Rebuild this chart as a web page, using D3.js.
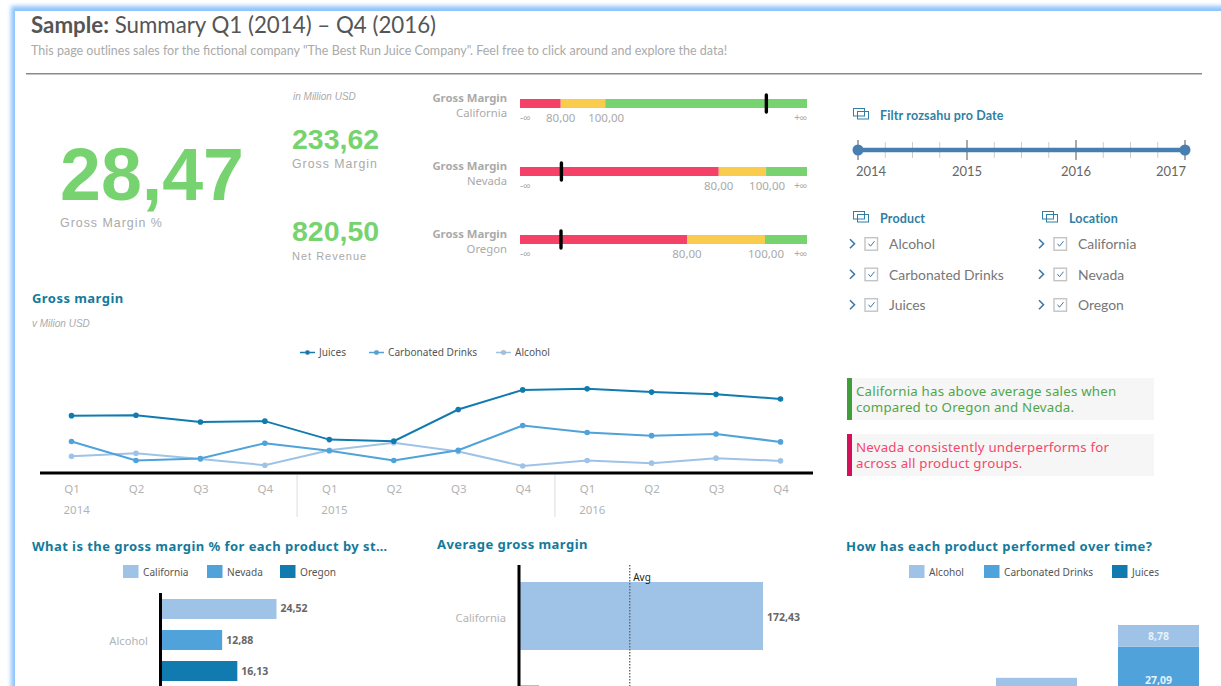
<!DOCTYPE html>
<html><head><meta charset="utf-8">
<script src="https://cdn.jsdelivr.net/npm/d3@7"></script>
<style>
html,body{margin:0;padding:0;background:#fff;overflow:hidden;width:1221px;height:686px}
svg{display:block}
text{font-family:"Noto Sans",sans-serif}
.lato{font-family:Lato,sans-serif}
.arial{font-family:"Liberation Sans",sans-serif}
.sec{font-family:"Noto Sans",sans-serif;font-weight:700;font-size:13px;fill:#137a9c;letter-spacing:.45px}
.leg{font-size:10.1px;fill:#555}
.cat{font-size:11.2px;fill:#b3b3b3}
.val{font-size:10.5px;font-weight:700;fill:#666}
</style></head><body>
<svg id="c" width="1221" height="686" viewBox="0 0 1221 686"></svg>
<script>
// ---------- data ----------
const quarters = ["Q1","Q2","Q3","Q4","Q1","Q2","Q3","Q4","Q1","Q2","Q3","Q4"];
const years = ["2014","2015","2016"];
const juices = [52.4,52.8,46.2,47.1,29.3,27.8,58.3,77.2,78.2,75.1,72.9,68.5];
const carbonated = [27.4,9.1,11.0,25.8,18.5,9.1,19.1,42.9,36.2,33.1,34.7,27.09];
const alcohol = [13.3,16.2,10.7,4.6,19.1,26.2,17.8,3.9,9.1,6.6,11.4,8.78];
const lineSeries = ["Juices","Carbonated Drinks","Alcohol"];

const kpiMain = "28,47";
const kpiGross = "233,62";
const kpiRevenue = "820,50";

const locations = ["California","Nevada","Oregon"];
const products = ["Alcohol","Carbonated Drinks","Juices"];
const grossByLocation = [172.43,13.5,47.69];
const bulletDomainLow = [61.7,-4,37.18];
const bulletDomainHigh = [190.7,117.3,110.77];
const thresholds = [80,100];
const thresholdLabels = ["80,00","100,00"];

const alcoholByLocation = [24.52,12.88,16.13];
const stackPeriods = ["2014","2015","2016"];
const stackAlcohol = [7.0,9.6,8.78];
const stackCarbonated = [15.0,26.0,27.09];
const stackJuices = [40.0,47.4,68.5];

const sliderYears = [2014,2015,2016,2017];

const note1 = ["California has above average sales when","compared to Oregon and Nevada."];
const note2 = ["Nevada consistently underperforms for","across all product groups."];

// ---------- helpers ----------
const LIGHT="#9ec3e7", MID="#4fa3da", DARK="#117bb0", GREEN="#77d36f", RED="#f54068", YEL="#f9cc4e";
const svg = d3.select("#c");
const tx = (x,y,s,cls,extra={})=>{
  const t=svg.append("text").attr("x",x).attr("y",y).text(s);
  if(cls) t.attr("class",cls);
  Object.entries(extra).forEach(([k,v])=>t.style(k,v));
  return t;
};
const vline=(x,y1,y2,col,w)=>svg.append("line").attr("x1",x).attr("x2",x).attr("y1",y1).attr("y2",y2).attr("stroke",col).attr("stroke-width",w);

// ---------- frame ----------
const defs=svg.append("defs");
defs.append("filter").attr("id","blur").attr("x","-5%").attr("y","-5%").attr("width","110%").attr("height","110%")
  .append("feGaussianBlur").attr("stdDeviation",2.2);
svg.append("rect").attr("x",11).attr("y",6).attr("width",1300).attr("height",800).attr("fill","#8fc4fb").attr("filter","url(#blur)");
svg.append("rect").attr("x",15).attr("y",11).attr("width",1300).attr("height",800).attr("fill","#fff");

// ---------- header ----------
const title=tx(31,33,"","lato",{"font-size":"22.3px","fill":"#555"});
title.append("tspan").style("font-weight",700).text("Sample:");
title.append("tspan").text(" Summary Q1 (2014) – Q4 (2016)");
tx(31,54.5,"This page outlines sales for the fictional company \"The Best Run Juice Company\". Feel free to click around and explore the data!","lato",{"font-size":"12.53px","fill":"#aaa"});
svg.append("rect").attr("x",26).attr("y",73).attr("width",1176).attr("height",1.5).attr("fill","#8a8a8a");

// ---------- KPIs ----------
tx(60,200,kpiMain,"arial",{"font-size":"73.5px","font-weight":700,"fill":GREEN});
tx(60,227,"Gross Margin %","arial",{"font-size":"12.4px","fill":"#aaa","letter-spacing":"1px"});
tx(293,100,"in Million USD","arial",{"font-size":"10px","font-style":"italic","fill":"#aaa"});
tx(292,149,kpiGross,"arial",{"font-size":"28.5px","font-weight":700,"fill":GREEN});
tx(292,168,"Gross Margin","arial",{"font-size":"12.3px","fill":"#aaa","letter-spacing":"1px"});
tx(292,241,kpiRevenue,"arial",{"font-size":"28.5px","font-weight":700,"fill":GREEN});
tx(292,260,"Net Revenue","arial",{"font-size":"11px","fill":"#aaa","letter-spacing":"1px"});

// ---------- bullets ----------
locations.forEach((loc,i)=>{
  const top=99+i*68, h=9;
  const x=d3.scaleLinear().domain([bulletDomainLow[i],bulletDomainHigh[i]]).range([520,807]);
  const stops=[bulletDomainLow[i],...thresholds,bulletDomainHigh[i]];
  [RED,YEL,GREEN].forEach((col,k)=>{
    svg.append("rect").attr("x",x(stops[k])).attr("y",top).attr("width",x(stops[k+1])-x(stops[k])).attr("height",h).attr("fill",col);
  });
  svg.append("line").attr("x1",x(grossByLocation[i])).attr("x2",x(grossByLocation[i]))
    .attr("y1",top-4).attr("y2",top+13).attr("stroke","#000").attr("stroke-width",3.4).attr("stroke-linecap","round");
  tx(507,top+3,"Gross Margin",null,{"font-size":"11.3px","font-weight":700,"fill":"#aaa","text-anchor":"end"});
  tx(507,top+17.5,loc,null,{"font-size":"11.3px","fill":"#aaa","text-anchor":"end"});
  tx(520,top+22,"-∞",null,{"font-size":"10px","fill":"#aaa"});
  tx(807,top+22,"+∞",null,{"font-size":"10px","fill":"#aaa","text-anchor":"end"});
  thresholds.forEach((t,k)=>tx(x(t)+(k?1:0),top+23,thresholdLabels[k],null,{"font-size":"11.5px","fill":"#aaa","text-anchor":"middle"}));
});

// ---------- filters ----------
function icon(x,y){
  const g=svg.append("g").attr("fill","none").attr("stroke","#2f7fa5").attr("stroke-width",1);
  g.append("rect").attr("x",x+.5).attr("y",y+.5).attr("width",11).attr("height",7.5);
  g.append("rect").attr("x",x+4.5).attr("y",y+3.5).attr("width",11).attr("height",7.5).attr("fill","none");
}
icon(853,108);
tx(880,120,"Filtr rozsahu pro Date","lato",{"font-size":"12.5px","font-weight":700,"fill":"#2f7fa5","letter-spacing":".15px"});
const sx=d3.scaleLinear().domain([2014,2017]).range([858,1185]);
d3.range(2014,2017.01,0.25).forEach(v=>{
  const major=Number.isInteger(v);
  vline(sx(v),major?140:142,major?160:158,major?"#555":"#ccc",1);
});
svg.append("line").attr("x1",sx(2014)).attr("x2",sx(2017)).attr("y1",150).attr("y2",150).attr("stroke","#477fb0").attr("stroke-width",4.5);
[2014,2017].forEach(v=>svg.append("circle").attr("cx",sx(v)).attr("cy",150).attr("r",5.5).attr("fill","#477fb0"));
sliderYears.forEach((y,i)=>{
  const xp=sx(y)+(i===0?13:i===3?-14:0);
  tx(xp,176,String(y),"lato",{"font-size":"13px","fill":"#666","text-anchor":"middle"});
});
function checks(x,titleStr,items){
  icon(x+11,211);
  tx(x+38,223,titleStr,"lato",{"font-size":"12.5px","font-weight":700,"fill":"#2f7fa5","letter-spacing":".15px"});
  items.forEach((s,i)=>{
    const cy=243.7+i*30.5;
    svg.append("path").attr("d",`M${x+8},${cy-4.5} l4.5,4.5 l-4.5,4.5`).attr("fill","none").attr("stroke","#3f78a8").attr("stroke-width",1.6);
    svg.append("rect").attr("x",x+23).attr("y",cy-6).attr("width",12.5).attr("height",12.5).attr("fill","#fff").attr("stroke","#c4c4c4").attr("stroke-width",1.4);
    svg.append("path").attr("d",`M${x+26.5},${cy} l2,2.5 l4,-5`).attr("fill","none").attr("stroke","#3f78a8").attr("stroke-width",1);
    tx(x+47,cy+5.3,s,"lato",{"font-size":"13.9px","fill":"#777"});
  });
}
checks(842,"Product",products);
checks(1031,"Location",locations);

// ---------- notes ----------
function note(y,bar,col,lines){
  svg.append("rect").attr("x",847).attr("y",y).attr("width",307).attr("height",42).attr("fill","#f6f6f6");
  svg.append("rect").attr("x",847).attr("y",y).attr("width",5).attr("height",42).attr("fill",bar);
  lines.forEach((l,i)=>tx(856,y+17.5+i*16.3,l,null,{"font-size":"13.3px","fill":col,"letter-spacing":".2px"}));
}
note(378,"#3f9e3a","#4fa64a",note1);
note(434,"#d5105a","#f5476a",note2);

// ---------- line chart ----------
tx(32,303,"Gross margin","sec");
tx(32,327,"v Milion USD","arial",{"font-size":"10px","font-style":"italic","fill":"#aaa"});
const lineColors=d3.scaleOrdinal().domain(lineSeries).range([DARK,MID,LIGHT]);
const idx=d3.range(quarters.length);
const lx=d3.scalePoint().domain(idx).range([71.5,780.5]);
const ly=d3.scaleLinear().domain([-2.9,80]).range([473,387]);
const line=d3.line().x((d,i)=>lx(i)).y(d=>ly(d));
[alcohol,carbonated,juices].forEach((vals,s)=>{
  const col=[LIGHT,MID,DARK][s];
  svg.append("path").datum(vals).attr("d",line).attr("fill","none").attr("stroke",col).attr("stroke-width",2);
  svg.selectAll(null).data(vals).enter().append("circle").attr("cx",(d,i)=>lx(i)).attr("cy",d=>ly(d)).attr("r",2.8).attr("fill",col);
});
const legLine=[[300,"Juices"],[369,"Carbonated Drinks"],[496,"Alcohol"]];
legLine.forEach(([x,s])=>{
  const c=lineColors(s);
  svg.append("line").attr("x1",x).attr("x2",x+15).attr("y1",352.5).attr("y2",352.5).attr("stroke",c).attr("stroke-width",1.5);
  svg.append("circle").attr("cx",x+7.5).attr("cy",352.5).attr("r",2.3).attr("fill",c).attr("stroke","#888").attr("stroke-width",.3);
  tx(x+19,356,s,"leg");
});
const ax=svg.append("g").attr("transform","translate(0,473)")
  .call(d3.axisBottom(lx).tickSize(0).tickPadding(11.5).tickFormat(i=>quarters[i]));
ax.select(".domain").remove();
ax.selectAll("text").style("font-size","11.5px").style("fill","#b3b3b3").style("font-family","'Noto Sans',sans-serif");
svg.append("rect").attr("x",40).attr("y",471.5).attr("width",773).attr("height",3).attr("fill","#000");
years.forEach((y,i)=>{
  tx(lx(i*4)-8,514,y,null,{"font-size":"11.5px","fill":"#b3b3b3"});
  if(i>0) vline((lx(i*4)+lx(i*4-1))/2,475,517,"#ddd",1);
});

// ---------- bars: product by state ----------
tx(32,551,"What is the gross margin % for each product by st…","sec");
const barColors=[LIGHT,MID,DARK];
function swatchLegend(items,y){
  items.forEach(([x,s,c])=>{
    svg.append("rect").attr("x",x).attr("y",y).attr("width",15.5).attr("height",13).attr("fill",c);
    tx(x+20,y+11,s,"leg");
  });
}
swatchLegend([[123,locations[0],LIGHT],[207,locations[1],MID],[280,locations[2],DARK]],565);
const bx=d3.scaleLinear().domain([0,24.52]).range([162,276.5]);
const by=d3.scaleBand().domain(locations).range([599,681]).paddingInner(0.355).paddingOuter(0);
alcoholByLocation.forEach((v,i)=>{
  const l=locations[i];
  svg.append("rect").attr("x",bx(0)).attr("y",by(l)).attr("width",bx(v)-bx(0)).attr("height",by.bandwidth()).attr("fill",barColors[i]);
  tx(bx(v)+4,by(l)+by.bandwidth()/2+3.5,d3.format(".2f")(v).replace(".",","),"val");
});
tx(148,645,products[0],"cat",{"text-anchor":"end"});
svg.append("rect").attr("x",159).attr("y",593).attr("width",3).attr("height",100).attr("fill","#000");

// ---------- bars: average ----------
tx(437,549,"Average gross margin","sec");
const ax2=d3.scaleLinear().domain([0,172.43]).range([520,763]);
const ay2=d3.scaleBand().domain(locations).range([582,856]).paddingInner(0.34).paddingOuter(0);
grossByLocation.forEach((v,i)=>{
  svg.append("rect").attr("x",ax2(0)).attr("y",ay2(locations[i])).attr("width",ax2(v)-ax2(0)).attr("height",ay2.bandwidth()).attr("fill",LIGHT);
});
tx(506,622,locations[0],"cat",{"text-anchor":"end"});
tx(767,621,"172,43","val");
const avg=d3.mean(grossByLocation);
svg.append("line").attr("x1",ax2(avg)).attr("x2",ax2(avg)).attr("y1",565).attr("y2",690).attr("stroke","#666").attr("stroke-width",1.4).attr("stroke-dasharray","1.5 1.5");
tx(ax2(avg)+3.5,581,"Avg",null,{"font-size":"10px","fill":"#222"});
svg.append("rect").attr("x",517.5).attr("y",565).attr("width",3).attr("height",130).attr("fill","#000");

// ---------- stacked bars ----------
tx(846,551,"How has each product performed over time?","sec");
swatchLegend([[909,products[0],LIGHT],[984,products[1],MID],[1112,products[2],DARK]],565);
const stackRows=stackPeriods.map((p,i)=>({p,Alcohol:stackAlcohol[i],"Carbonated Drinks":stackCarbonated[i],Juices:stackJuices[i]}));
const stack=d3.stack().keys([...products].reverse())(stackRows);
const sxb=d3.scaleBand().domain(stackPeriods).range([874,1199]).paddingInner(0.336).paddingOuter(0);
const syb=d3.scaleLinear().domain([0,104.37]).range([883,625]);
stack.forEach(layer=>{
  const col=layer.key==="Alcohol"?LIGHT:layer.key==="Juices"?DARK:MID;
  layer.forEach(d=>{
    svg.append("rect").attr("x",sxb(d.data.p)).attr("y",syb(d[1])).attr("width",sxb.bandwidth()).attr("height",syb(d[0])-syb(d[1])).attr("fill",col);
  });
  const last=layer[layer.length-1];
  if(layer.key!=="Juices"){
    tx(sxb(last.data.p)+sxb.bandwidth()/2,(syb(last[0])+syb(last[1]))/2+4,d3.format(".2f")(last[1]-last[0]).replace(".",","),null,{"font-size":"10.5px","font-weight":700,"fill":"#e8f1fa","text-anchor":"middle"});
  }
});
</script></body></html>
